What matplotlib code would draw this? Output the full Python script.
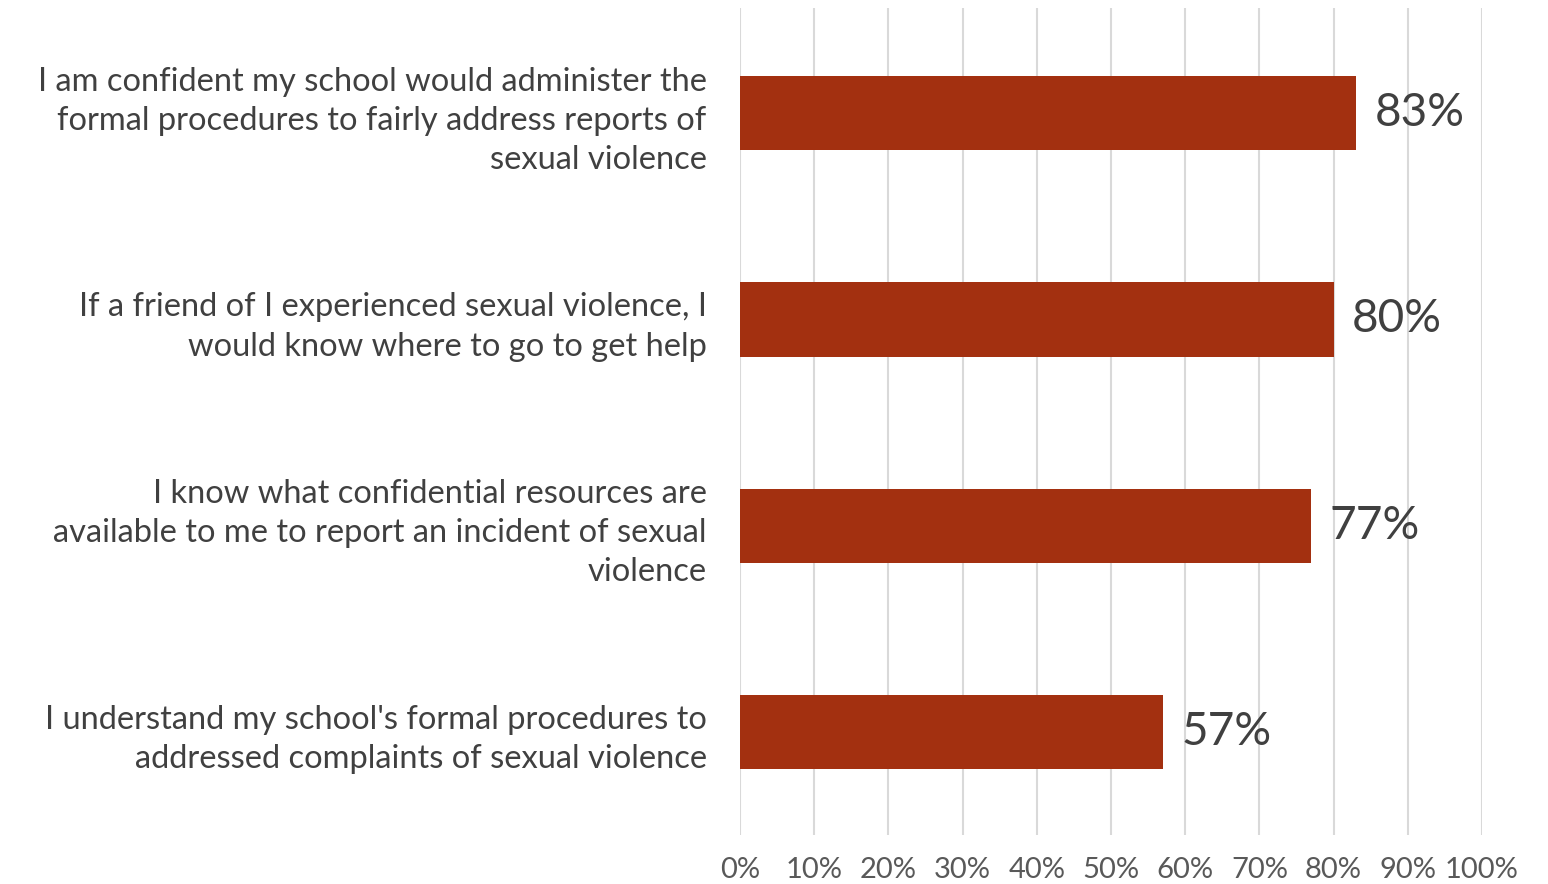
import matplotlib.pyplot as plt

# survey statements, top to bottom
labels = [
    "I am confident my school would administer the\nformal procedures to fairly address reports of\nsexual violence",
    "If a friend of I experienced sexual violence, I\nwould know where to go to get help",
    "I know what confidential resources are\navailable to me to report an incident of sexual\nviolence",
    "I understand my school's formal procedures to\naddressed complaints of sexual violence",
]
values = [83, 80, 77, 57]
ticks = list(range(0, 101, 10))
tick_labels = [f"{t}%" for t in ticks]

plt.rcParams['font.family'] = ['Lato', 'DejaVu Sans']

fig = plt.figure(figsize=(15.48, 8.84), dpi=100)
ax = fig.add_axes([740 / 1548, (884 - 835) / 884, (1482 - 740) / 1548, (835 - 8) / 884])

ypos = list(range(len(values)))
ax.barh(ypos, values, height=0.36, color='#A33010', zorder=3)
for y, v in zip(ypos, values):
    ax.text(v + 2.5, y, f"{v}%", va='center', ha='left', fontsize=33, color='#404040')

ax.set_xlim(0, 100)
ax.set_ylim(3.5, -0.51)
ax.set_xticks(ticks)
ax.set_xticklabels(tick_labels, fontsize=21, color='#595959')
ax.set_yticks(ypos)
ax.set_yticklabels(labels, fontsize=23.5, color='#404040', linespacing=1.38)
for lbl in ax.get_yticklabels():
    lbl.set_va('center_baseline')
ax.tick_params(axis='x', length=0, pad=16)
ax.tick_params(axis='y', length=0, pad=24)
ax.grid(axis='x', color='#d9d9d9', linewidth=1.5, zorder=0)
for s in ax.spines.values():
    s.set_visible(False)

fig.savefig('out.png', dpi=100)
